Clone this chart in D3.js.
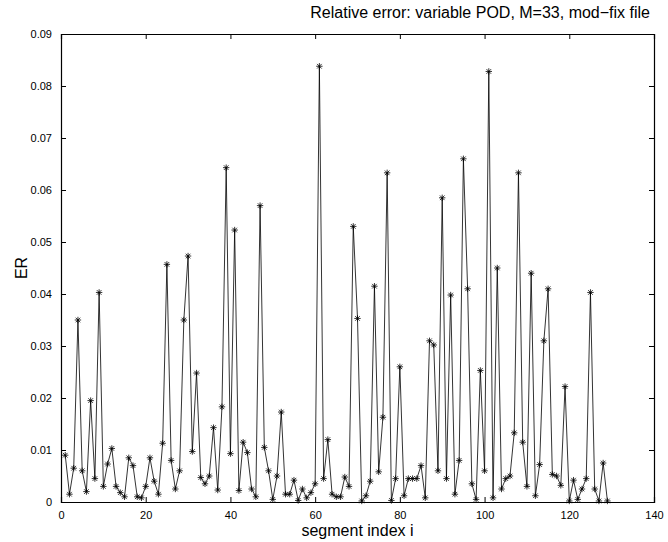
<!DOCTYPE html>
<html>
<head>
<meta charset="utf-8">
<script src="https://cdn.jsdelivr.net/npm/d3@7"></script>
<style>
  body { margin: 0; background: #fff; }
  text { font-family: "Liberation Sans", Arial, sans-serif; }
</style>
</head>
<body>
<div id="chart"></div>
<script>
// values, segment i = 1..129
const errValues = [
  0.009, 0.0015, 0.0065, 0.035, 0.006, 0.002, 0.0195, 0.0045, 0.0403, 0.003,
  0.0073, 0.0103, 0.003, 0.0018, 0.001, 0.0085, 0.007, 0.001, 0.0008, 0.003,
  0.0085, 0.004, 0.0015, 0.0113, 0.0457, 0.008, 0.0025, 0.006, 0.035, 0.0473,
  0.0097, 0.0248, 0.0047, 0.0035, 0.005, 0.0143, 0.0023, 0.0183, 0.0643, 0.0093,
  0.0523, 0.0022, 0.0115, 0.0095, 0.0025, 0.001, 0.057, 0.0105, 0.006, 0.0005,
  0.005, 0.0173, 0.0015, 0.0015, 0.0042, 0.0003, 0.0025, 0.0008, 0.0018, 0.0035,
  0.0838, 0.0045, 0.012, 0.0015, 0.001, 0.001, 0.0048, 0.003, 0.053, 0.0353,
  0.0002, 0.0012, 0.004, 0.0415, 0.0058, 0.0163, 0.0633, 0.0003, 0.0045, 0.026,
  0.0012, 0.0045, 0.0045, 0.0045, 0.007, 0.0008, 0.031, 0.0302, 0.006, 0.0585,
  0.0045, 0.0398, 0.0015, 0.008, 0.066, 0.041, 0.0035, 0.0005, 0.0253, 0.006,
  0.0828, 0.0008, 0.045, 0.0025, 0.0045, 0.005, 0.0133, 0.0633, 0.0115, 0.003,
  0.044, 0.0012, 0.0072, 0.031, 0.041, 0.0053, 0.005, 0.0032, 0.0222, 0.0002,
  0.0042, 0.0005, 0.0025, 0.0045, 0.0403, 0.0025, 0.0002, 0.0075, 0.0002
];
const segIndex = errValues.map((d, i) => i + 1);
const xTicks = [0, 20, 40, 60, 80, 100, 120, 140];
const yTicks = [0, 0.01, 0.02, 0.03, 0.04, 0.05, 0.06, 0.07, 0.08, 0.09];
const titleText = 'Relative error: variable POD, M=33, mod\u2212fix file';

const W = 668, H = 542;
const margin = { top: 34, right: 14, bottom: 40, left: 61 };
const width = W - margin.left - margin.right;
const height = H - margin.top - margin.bottom;

const svg = d3.select('#chart').append('svg')
  .attr('width', W).attr('height', H);
const g = svg.append('g')
  .attr('transform', `translate(${margin.left},${margin.top})`);

const x = d3.scaleLinear().domain([0, 140]).range([0, width]);
const y = d3.scaleLinear().domain([0, 0.09]).range([height, 0]);

// axes, ticks pointing inward, mirrored on top/right
const tickLen = 5;
g.append('g')
  .attr('transform', `translate(0,${height})`)
  .call(d3.axisBottom(x).tickValues(xTicks).tickSize(-tickLen).tickPadding(9).tickFormat(d3.format('d')));
g.append('g')
  .call(d3.axisTop(x).tickValues(xTicks).tickSize(-tickLen).tickFormat(''));
g.append('g')
  .call(d3.axisLeft(y).tickValues(yTicks).tickSize(-tickLen).tickPadding(9).tickFormat(d => d === 0 ? '0' : d3.format('.2f')(d)));
g.append('g')
  .attr('transform', `translate(${width},0)`)
  .call(d3.axisRight(y).tickValues(yTicks).tickSize(-tickLen).tickFormat(''));

g.selectAll('.domain').attr('stroke', '#000').attr('stroke-width', 1.2);
g.selectAll('.tick line').attr('stroke', '#000');
g.selectAll('.tick text')
  .style('font-family', '"Liberation Sans", Arial, sans-serif')
  .style('font-size', '11px').attr('fill', '#000');

// series line
const line = d3.line().x((d, i) => x(segIndex[i])).y(d => y(d));
g.append('path')
  .datum(errValues)
  .attr('fill', 'none')
  .attr('stroke', '#000')
  .attr('stroke-width', 0.8)
  .attr('d', line);

// asterisk markers
const r = 3.2, rd = r * 0.72;
const star = `M${-r},0L${r},0M0,${-r}L0,${r}M${-rd},${-rd}L${rd},${rd}M${-rd},${rd}L${rd},${-rd}`;
g.selectAll('path.mark')
  .data(errValues)
  .enter()
  .append('path')
  .attr('class', 'mark')
  .attr('transform', (d, i) => `translate(${x(segIndex[i])},${y(d)})`)
  .attr('d', star)
  .attr('fill', 'none')
  .attr('stroke', '#000')
  .attr('stroke-width', 0.8);

// labels
svg.append('text')
  .attr('x', margin.left + width / 2)
  .attr('y', 536)
  .attr('text-anchor', 'middle')
  .style('font-size', '16px')
  .text('segment index i');

svg.append('text')
  .attr('transform', `translate(27,${margin.top + height / 2}) rotate(-90)`)
  .attr('text-anchor', 'middle')
  .style('font-size', '16px')
  .text('ER');

svg.append('text')
  .attr('x', 650)
  .attr('y', 18)
  .attr('text-anchor', 'end')
  .style('font-size', '16px')
  .text(titleText);
</script>
</body>
</html>
